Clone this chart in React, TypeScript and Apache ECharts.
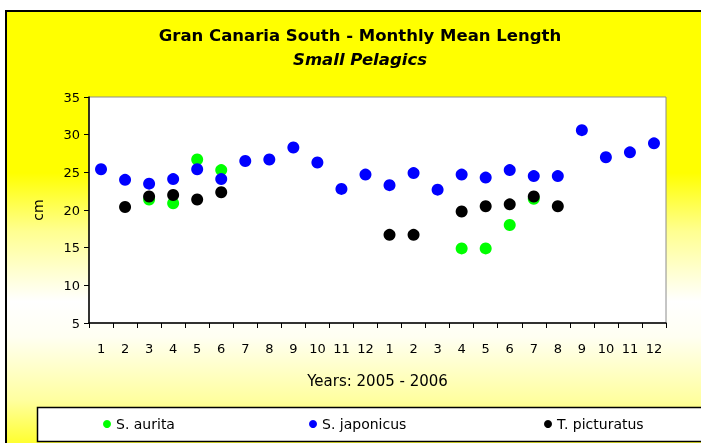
import React, { useEffect, useRef } from "react";
import * as echarts from "echarts";

const months = ["1","2","3","4","5","6","7","8","9","10","11","12","1","2","3","4","5","6","7","8","9","10","11","12"];
const sAurita = [null, null, 21.4, 20.9, 26.7, 25.3, null, null, null, null, null, null, null, null, null, 14.9, 14.9, 18.0, 21.5, null, null, null, null, null];
const sJaponicus = [25.4, 24.0, 23.5, 24.1, 25.4, 24.1, 26.5, 26.7, 28.3, 26.3, 22.8, 24.7, 23.3, 24.9, 22.7, 24.7, 24.3, 25.3, 24.5, 24.5, 30.6, 27.0, 27.65, 28.85];
const tPicturatus = [null, 20.4, 21.8, 22.0, 21.4, 22.35, null, null, null, null, null, null, 16.7, 16.7, null, 19.8, 20.5, 20.75, 21.8, 20.5, null, null, null, null];
const seriesNames = ["S. aurita", "S. japonicus", "T. picturatus"];
const seriesColors = ["#00ff00", "#0000ff", "#000000"];
const titleText = "Gran Canaria South - Monthly Mean Length";
const subtitleText = "Small Pelagics";
const xAxisTitle = "Years: 2005 - 2006";
const yAxisTitle = "cm";

const FONT = "DejaVu Sans";

export default function App() {
  const ref = useRef<HTMLDivElement>(null);
  useEffect(() => {
    if (!ref.current) return;
    const chart = echarts.init(ref.current, null, { renderer: "svg" });
    const values = [sAurita, sJaponicus, tPicturatus];
    const legendLefts = [103, 309, 544];
    chart.setOption({
      animation: false,
      graphic: [
        {
          type: "rect",
          z: -10,
          silent: true,
          shape: { x: 6, y: 11, width: 740, height: 440 },
          style: {
            fill: new echarts.graphic.LinearGradient(0, 0, 0, 1, [
              { offset: 0, color: "#ffff00" },
              { offset: 0.368, color: "#ffff00" },
              { offset: 0.5, color: "#ffff90" },
              { offset: 0.66, color: "#ffffff" },
              { offset: 0.74, color: "#fffff2" },
              { offset: 0.884, color: "#ffffa0" },
              { offset: 0.982, color: "#ffff30" },
              { offset: 1, color: "#ffff20" },
            ]),
            stroke: "#000",
            lineWidth: 2,
          },
        },
        {
          type: "rect",
          z: 1,
          silent: true,
          shape: { x: 37.5, y: 407.5, width: 720, height: 34 },
          style: { fill: "#ffffff", stroke: "#000", lineWidth: 1.5 },
        },
      ],
      title: [
        {
          text: titleText,
          left: 360,
          top: 27,
          padding: 0,
          textAlign: "center",
          textStyle: { fontFamily: FONT, fontWeight: "bold", fontSize: 16.5, color: "#000" },
        },
        {
          text: subtitleText,
          left: 360,
          top: 51,
          padding: 0,
          textAlign: "center",
          textStyle: { fontFamily: FONT, fontWeight: "bold", fontStyle: "italic", fontSize: 16.5, color: "#000" },
        },
      ],
      legend: seriesNames.map((n, i) => ({
        data: [n],
        left: legendLefts[i],
        top: 417,
        padding: 0,
        itemWidth: 8,
        itemHeight: 8,
        icon: "circle",
        textStyle: { fontFamily: FONT, fontSize: 14, color: "#000" },
      })),
      grid: {
        left: 89,
        top: 97,
        width: 577,
        height: 226,
        show: true,
        backgroundColor: "#ffffff",
        borderColor: "#8c8c8c",
        borderWidth: 1,
      },
      xAxis: {
        type: "category",
        data: months,
        boundaryGap: true,
        name: xAxisTitle,
        nameLocation: "middle",
        nameGap: 50,
        nameTextStyle: { fontFamily: FONT, fontSize: 15, color: "#000" },
        axisLine: { lineStyle: { color: "#000", width: 1.5 } },
        axisTick: { show: true, alignWithLabel: false, length: 5, lineStyle: { color: "#000" } },
        axisLabel: { fontFamily: FONT, fontSize: 13, color: "#000", margin: 19, interval: 0 },
        splitLine: { show: false },
      },
      yAxis: {
        type: "value",
        min: 5,
        max: 35,
        interval: 5,
        name: yAxisTitle,
        nameLocation: "middle",
        nameGap: 44,
        nameTextStyle: { fontFamily: FONT, fontSize: 14, color: "#000" },
        axisLine: { show: true, lineStyle: { color: "#000", width: 1.5 } },
        axisTick: { show: true, length: 5, lineStyle: { color: "#000" } },
        axisLabel: { fontFamily: FONT, fontSize: 13, color: "#000", margin: 9 },
        splitLine: { show: false },
      },
      series: seriesNames.map((n, i) => ({
        name: n,
        type: "scatter",
        data: values[i],
        symbol: "circle",
        symbolSize: 12,
        itemStyle: { color: seriesColors[i], opacity: 1 },
        z: 2 + i,
      })),
    });
    return () => chart.dispose();
  }, []);
  return <div ref={ref} style={{ position: "fixed", left: 0, top: 0, width: 701, height: 443 }} />;
}
